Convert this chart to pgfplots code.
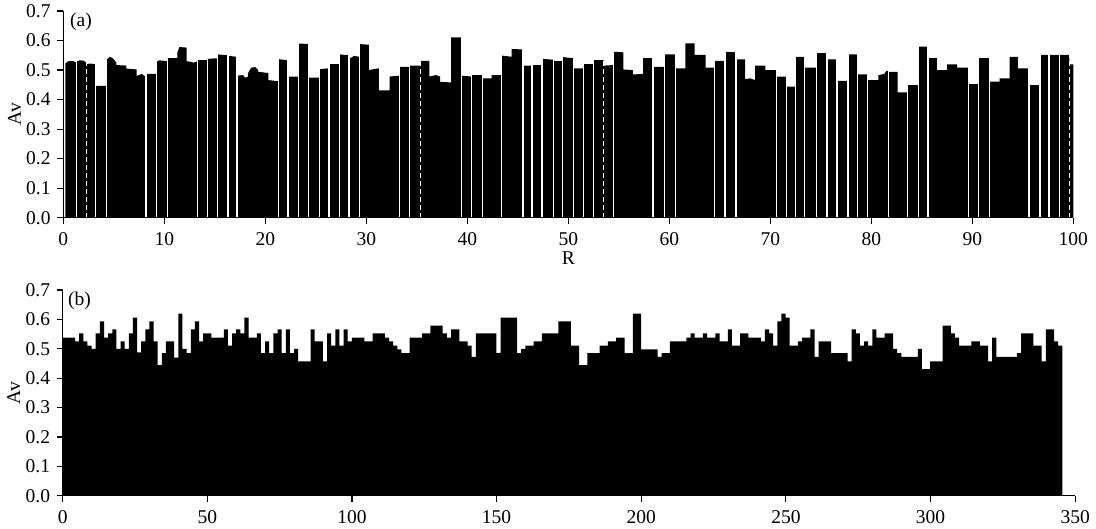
\documentclass[border=0pt]{standalone}
\usepackage{fontspec}
\setmainfont{Liberation Serif}
\usepackage{pgfplots}
\usepackage{pgfplotstable}
\pgfplotsset{compat=1.18}

% panel (b): one value per step (step width 1.428)
\pgfplotstableread{
v
0.538
0.538
0.538
0.525
0.552
0.525
0.511
0.500
0.552
0.593
0.538
0.552
0.566
0.500
0.525
0.500
0.552
0.606
0.488
0.525
0.566
0.593
0.525
0.444
0.485
0.525
0.525
0.470
0.620
0.500
0.485
0.566
0.593
0.525
0.552
0.552
0.538
0.538
0.538
0.566
0.511
0.552
0.566
0.552
0.606
0.538
0.538
0.552
0.485
0.525
0.485
0.552
0.566
0.485
0.566
0.485
0.500
0.457
0.457
0.457
0.566
0.525
0.525
0.457
0.552
0.511
0.566
0.511
0.566
0.525
0.538
0.538
0.538
0.525
0.525
0.552
0.552
0.552
0.538
0.525
0.511
0.498
0.485
0.485
0.538
0.538
0.538
0.552
0.552
0.579
0.579
0.579
0.552
0.538
0.566
0.566
0.525
0.525
0.511
0.472
0.552
0.552
0.552
0.552
0.552
0.485
0.606
0.606
0.606
0.606
0.485
0.500
0.511
0.511
0.525
0.525
0.552
0.552
0.552
0.552
0.593
0.593
0.593
0.511
0.511
0.444
0.444
0.485
0.485
0.485
0.511
0.511
0.525
0.525
0.538
0.538
0.485
0.485
0.620
0.620
0.498
0.498
0.498
0.498
0.472
0.485
0.485
0.525
0.525
0.525
0.525
0.538
0.552
0.538
0.538
0.552
0.538
0.538
0.552
0.525
0.525
0.566
0.511
0.511
0.552
0.552
0.538
0.538
0.538
0.525
0.566
0.552
0.511
0.593
0.620
0.606
0.511
0.511
0.525
0.538
0.538
0.566
0.472
0.525
0.525
0.525
0.485
0.485
0.485
0.485
0.457
0.566
0.552
0.511
0.525
0.511
0.566
0.538
0.538
0.552
0.552
0.500
0.485
0.472
0.472
0.472
0.472
0.500
0.431
0.431
0.457
0.457
0.457
0.579
0.579
0.552
0.538
0.511
0.511
0.511
0.525
0.525
0.511
0.511
0.457
0.538
0.472
0.472
0.472
0.472
0.472
0.485
0.552
0.552
0.552
0.511
0.511
0.457
0.566
0.566
0.525
0.511
0.511
}\datab

% panel (a): top profile
\pgfplotstableread{
u v
0.2 0.522
0.5 0.530
1.0 0.530
1.3 0.525
1.3 0.528
1.6 0.533
2.0 0.532
2.25 0.525
2.25 0.518
2.6 0.522
3.2 0.520
3.2 0.446
4.3 0.446
4.3 0.535
4.6 0.545
4.9 0.540
5.25 0.525
5.25 0.517
6.25 0.515
6.25 0.505
7.25 0.502
7.25 0.480
7.8 0.487
8.0 0.480
8.25 0.480
8.25 0.487
9.25 0.487
9.25 0.528
9.5 0.533
10.3 0.530
10.3 0.540
11.3 0.541
11.3 0.560
11.5 0.578
12.2 0.576
12.2 0.530
12.6 0.528
12.9 0.525
13.3 0.530
13.3 0.534
14.25 0.534
14.25 0.538
15.3 0.540
15.3 0.553
16.3 0.550
16.3 0.548
17.2 0.545
17.2 0.481
17.8 0.483
18.0 0.474
18.3 0.478
18.3 0.490
18.6 0.508
19.0 0.510
19.3 0.500
19.3 0.494
20.3 0.490
20.3 0.466
21.3 0.462
21.3 0.537
22.25 0.533
22.25 0.478
23.3 0.478
23.3 0.590
24.3 0.588
24.3 0.474
25.4 0.474
25.4 0.503
26.3 0.506
26.3 0.520
27.35 0.520
27.35 0.553
28.3 0.550
28.3 0.538
28.8 0.548
29.3 0.545
29.3 0.588
30.25 0.586
30.25 0.500
31.25 0.506
31.25 0.431
32.3 0.431
32.3 0.478
33.3 0.481
33.3 0.511
34.3 0.511
34.3 0.515
35.4 0.515
35.4 0.531
36.25 0.531
36.25 0.478
36.9 0.483
37.3 0.478
37.3 0.460
38.4 0.458
38.4 0.611
39.4 0.611
39.4 0.481
40.4 0.478
40.4 0.483
41.5 0.483
41.5 0.472
42.4 0.472
42.4 0.483
43.4 0.483
43.4 0.549
44.4 0.545
44.4 0.571
45.5 0.570
45.5 0.515
46.4 0.515
46.4 0.517
47.4 0.517
47.4 0.538
48.5 0.535
48.5 0.531
49.4 0.530
49.4 0.544
50.5 0.540
50.5 0.506
51.5 0.506
51.5 0.520
52.5 0.520
52.5 0.534
53.5 0.534
53.5 0.515
54.5 0.517
54.5 0.562
55.45 0.560
55.45 0.502
56.4 0.500
56.4 0.485
57.4 0.487
57.4 0.540
58.4 0.540
58.4 0.511
59.5 0.511
59.5 0.553
60.6 0.553
60.6 0.506
61.6 0.506
61.6 0.590
62.5 0.590
62.5 0.551
63.6 0.551
63.6 0.508
64.5 0.508
64.5 0.531
65.5 0.531
65.5 0.562
66.6 0.560
66.6 0.536
67.5 0.536
67.5 0.469
68.0 0.472
68.5 0.466
68.5 0.515
69.5 0.515
69.5 0.500
70.6 0.500
70.6 0.478
71.6 0.478
71.6 0.444
72.5 0.444
72.5 0.545
73.4 0.545
73.4 0.508
74.6 0.508
74.6 0.557
75.6 0.557
75.6 0.536
76.6 0.536
76.6 0.463
77.7 0.463
77.7 0.553
78.6 0.553
78.6 0.485
79.6 0.485
79.6 0.466
80.7 0.466
80.7 0.483
81.3 0.487
81.5 0.498
81.7 0.495
81.7 0.494
82.6 0.494
82.6 0.424
83.6 0.424
83.6 0.449
84.7 0.449
84.7 0.579
85.6 0.579
85.6 0.540
86.5 0.540
86.5 0.500
87.5 0.500
87.5 0.519
88.5 0.519
88.5 0.508
89.6 0.508
89.6 0.452
90.6 0.452
90.6 0.540
91.7 0.540
91.7 0.461
92.7 0.461
92.7 0.472
93.7 0.472
93.7 0.545
94.5 0.545
94.5 0.506
95.6 0.506
95.6 0.449
96.7 0.449
96.7 0.551
97.6 0.551
98.6 0.551
99.6 0.551
99.6 0.519
100.0 0.519
}\dataa

% panel (a): positions of the white separating lines
\pgfplotstableread{
u h
1.3 0.64
3.2 0.64
4.3 0.64
8.2 0.64
9.25 0.64
10.3 0.64
13.3 0.64
14.25 0.64
15.3 0.64
16.3 0.64
17.2 0.64
21.3 0.64
22.25 0.64
23.3 0.64
24.3 0.64
25.4 0.64
26.3 0.64
27.35 0.64
28.3 0.64
29.3 0.64
33.3 0.64
34.3 0.64
39.4 0.64
40.4 0.64
41.5 0.64
43.4 0.64
45.5 0.64
46.4 0.64
47.4 0.64
48.5 0.64
49.4 0.64
50.5 0.64
51.5 0.64
52.5 0.64
54.5 0.64
58.4 0.64
59.5 0.64
60.6 0.64
64.5 0.64
65.5 0.64
66.6 0.64
70.6 0.64
71.6 0.64
72.5 0.64
73.4 0.64
74.6 0.64
75.6 0.64
76.6 0.64
77.7 0.64
78.6 0.64
79.6 0.64
81.7 0.64
83.6 0.64
84.7 0.64
85.6 0.64
89.6 0.64
90.6 0.64
91.7 0.64
95.6 0.64
96.7 0.64
97.6 0.64
98.6 0.64
}\gapsa

\pgfplotstableread{
u h
2.3 0.64
35.4 0.64
53.5 0.64
99.6 0.64
}\gapsad

\pgfplotsset{
  panel/.style={
    scale only axis,
    anchor=south west,
    ymin=0, ymax=0.7,
    axis lines=left,
    axis line style={-, line width=1.2pt, black},
    tick align=outside,
    major tick length=6pt,
    tick style={line width=1.2pt, black},
    ytick={0,0.1,0.2,0.3,0.4,0.5,0.6,0.7},
    yticklabel style={/pgf/number format/.cd, fixed, fixed zerofill, precision=1},
    xticklabel style={yshift=-2pt},
    /pgf/number format/assume math mode=true,
    ylabel={Av},
    ylabel style={yshift=-8pt},
    axis on top,
    clip=false,
  }
}

\begin{document}
\fontsize{19.5}{23}\selectfont
\begin{tikzpicture}[font=\fontsize{19.5}{23}\selectfont]
\path[use as bounding box] (0,0) rectangle (1096pt,529pt);

\begin{axis}[panel,
  at={(63.3pt,311.3pt)},
  width=1010pt, height=206.7pt,
  xmin=0, xmax=100,
  xtick={0,10,20,30,40,50,60,70,80,90,100},
  xlabel={R},
  xlabel style={yshift=7pt},
]
\addplot[fill=black, draw=none, mark=none] table[x=u, y=v] {\dataa} \closedcycle;
\addplot[ycomb, white, line width=1.3pt, mark=none] table[x=u, y=h] {\gapsa};
\addplot[ycomb, white, line width=1.1pt, mark=none, dash pattern=on 5pt off 3pt] table[x=u, y=h] {\gapsad};
\node[anchor=north west, inner sep=0pt] at (axis cs:0.66,0.695) {(a)};
\end{axis}

\begin{axis}[panel,
  at={(62.7pt,33.3pt)},
  width=1012.5pt, height=205.7pt,
  xmin=0, xmax=350,
  xtick={0,50,100,150,200,250,300,350},
]
\addplot[const plot, fill=black, draw=none, mark=none] table[x expr=\coordindex*1.428, y=v] {\datab} \closedcycle;
\node[anchor=north west, inner sep=0pt] at (axis cs:1.8,0.695) {(b)};
\end{axis}
\end{tikzpicture}
\end{document}
